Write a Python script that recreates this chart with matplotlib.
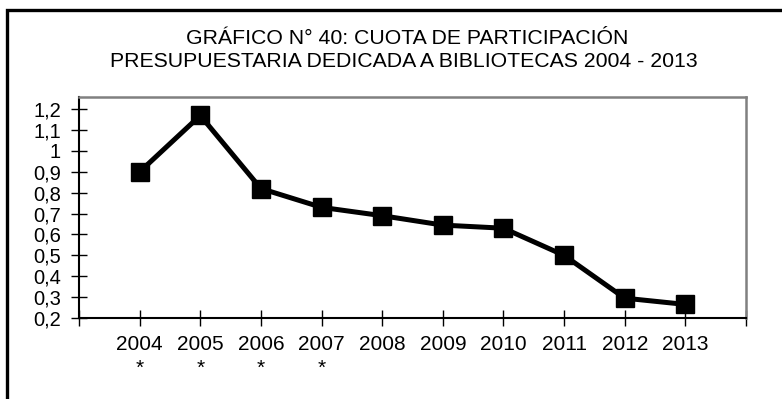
import matplotlib
matplotlib.use("Agg")
import matplotlib.pyplot as plt
from matplotlib.patches import Rectangle

plt.rcParams['font.family'] = ['Liberation Sans', 'DejaVu Sans']

years = [2004, 2005, 2006, 2007, 2008, 2009, 2010, 2011, 2012, 2013]
year_labels = ["2004\n*", "2005\n*", "2006\n*", "2007\n*", "2008", "2009",
               "2010", "2011", "2012", "2013"]
cuota = [0.90, 1.17, 0.82, 0.73, 0.69, 0.645, 0.63, 0.50, 0.295, 0.265]
y_ticks = [0.2, 0.3, 0.4, 0.5, 0.6, 0.7, 0.8, 0.9, 1.0, 1.1, 1.2]
y_tick_labels = ["0,2", "0,3", "0,4", "0,5", "0,6", "0,7", "0,8", "0,9", "1", "1,1", "1,2"]
title_lines = ["GRÁFICO N° 40: CUOTA DE PARTICIPACIÓN",
               "PRESUPUESTARIA DEDICADA A BIBLIOTECAS 2004 - 2013"]

W, H = 782, 399
fig = plt.figure(figsize=(W / 100, H / 100), dpi=100)
fig.patch.set_facecolor("white")

# outer frame (runs off the right and bottom edges)
fig.patches.append(Rectangle((7 / W, -0.1), 1.1, (H - 10) / H + 0.1,
                             transform=fig.transFigure, fill=False,
                             edgecolor="black", linewidth=2.4))

ax = fig.add_axes([79 / W, (H - 318) / H, (746 - 79) / W, (318 - 96.7) / H])
ax.plot(years, cuota, color="black", linewidth=3.6, marker="s",
        markersize=13.5, markerfacecolor="black", markeredgecolor="black",
        solid_joinstyle="miter")

ax.set_xlim(2003, 2014)
ax.set_ylim(0.2, 1.26)
ax.set_xticks([2003] + years + [2014])
ax.set_xticklabels([""] + year_labels + [""], fontsize=15, linespacing=1.3,
                   va="top")
ax.set_yticks(y_ticks)
ax.set_yticklabels(y_tick_labels, fontsize=14.5)

ax.tick_params(axis="both", direction="inout", length=11, width=1, color="black")
ax.tick_params(axis="x", pad=7)
ax.tick_params(axis="y", pad=7.5)

for side in ("left", "bottom"):
    ax.spines[side].set_color("black")
    ax.spines[side].set_linewidth(1.5)
for side in ("top", "right"):
    ax.spines[side].set_color("#808080")
    ax.spines[side].set_linewidth(1.8)

fig.text(407.5 / W, 1 - 44 / H, title_lines[0], ha="center", va="baseline",
         fontsize=15.3)
fig.text(403.5 / W, 1 - 66.7 / H, title_lines[1], ha="center", va="baseline",
         fontsize=15.3)

fig.savefig("out.png", dpi=100)
